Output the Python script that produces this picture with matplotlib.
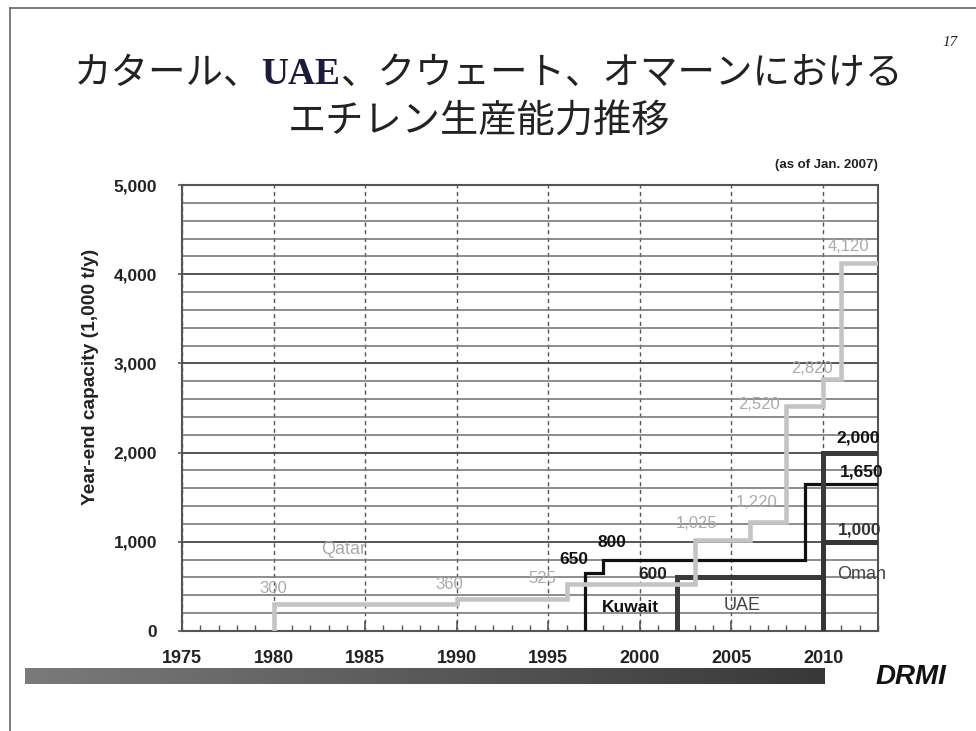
import numpy as np
import matplotlib
matplotlib.use("Agg")
import matplotlib.pyplot as plt
from matplotlib.lines import Line2D
from matplotlib.ticker import MultipleLocator, FixedLocator
from matplotlib.colors import LinearSegmentedColormap

JP = ["Noto Sans CJK JP", "DejaVu Sans"]
SANS = ["Liberation Sans", "DejaVu Sans"]
SERIF = ["Liberation Serif", "DejaVu Serif"]

# Year-end ethylene capacity (1,000 t/y); each point starts a new step
qatar_years = [1980, 1980, 1990, 1996, 2003, 2006, 2008, 2010, 2011, 2013]
qatar_cap = [0, 300, 360, 525, 1025, 1220, 2520, 2820, 4120, 4120]
kuwait_years = [1997, 1997, 1998, 2009, 2013]
kuwait_cap = [0, 650, 800, 1650, 1650]
uae_years = [2002, 2002, 2010, 2013]
uae_cap = [0, 600, 2000, 2000]
oman_years = [2010, 2010, 2013]
oman_cap = [0, 1000, 1000]

x_ticks = [1975, 1980, 1985, 1990, 1995, 2000, 2005, 2010]
y_ticks = [0, 1000, 2000, 3000, 4000, 5000]
y_tick_labels = ["0", "1,000", "2,000", "3,000", "4,000", "5,000"]

W, H = 976, 731
fig = plt.figure(figsize=(W / 100, H / 100), dpi=100)
fig.patch.set_facecolor("white")


def fx(px):
    return px / W


def fy(py):
    return 1 - py / H


# slide frame
fig.add_artist(Line2D([fx(10), fx(10)], [0, fy(8)], color="#666666", lw=1.2))
fig.add_artist(Line2D([fx(10), 1], [fy(8), fy(8)], color="#666666", lw=1.2))

# title (two lines, first line mixes a serif "UAE" into the Japanese text)
title_parts = [
    ("カタール、", dict(family=JP, color="#222222")),
    ("UAE", dict(family=SERIF, weight="bold", color="#1c1c3a")),
    ("、クウェート、オマーンにおける", dict(family=JP, color="#222222")),
]
t_objs = [fig.text(0, fy(84), s, ha="left", va="baseline", fontsize=27, **kw)
          for s, kw in title_parts]
t2 = fig.text(fx(479), fy(133), "エチレン生産能力推移", ha="center", va="baseline",
              fontsize=27.5, family=JP, color="#222222")
fig.canvas.draw()
rend = fig.canvas.get_renderer()
widths = [t.get_window_extent(rend).width for t in t_objs]
x0 = 488 - sum(widths) / 2
for t, w in zip(t_objs, widths):
    t.set_x(fx(x0))
    x0 += w

fig.text(fx(950), fy(42), "17", ha="center", va="center", fontsize=11,
         family=SERIF, style="italic", color="#222222")

# main chart
ax = fig.add_axes([fx(182), fy(631), fx(878) - fx(182), (631 - 185) / H])
ax.set_xlim(1975, 2013)
ax.set_ylim(0, 5000)

ax.yaxis.set_major_locator(FixedLocator(y_ticks))
ax.yaxis.set_minor_locator(MultipleLocator(200))
ax.xaxis.set_major_locator(FixedLocator(x_ticks))
ax.xaxis.set_minor_locator(MultipleLocator(1))

ax.grid(which="minor", axis="y", color="#7a7a7a", lw=1.2, zorder=0)
ax.grid(which="major", axis="y", color="#555555", lw=1.4, zorder=0)
ax.grid(which="major", axis="x", color="#555555", lw=1.0,
        linestyle=(0, (3, 2.5)), zorder=0)
ax.set_axisbelow(True)

ax.set_yticks(y_ticks)
ax.set_yticklabels(y_tick_labels)
ax.set_xticks(x_ticks)
ax.set_xticklabels([str(v) for v in x_ticks])

ax.tick_params(axis="x", which="major", direction="in", length=7, width=1.2,
               color="#555555", pad=14, labelsize=13, labelcolor="#222222")
ax.tick_params(axis="x", which="minor", direction="in", length=4, width=1.0,
               color="#555555")
ax.tick_params(axis="y", which="major", direction="out", length=3, width=1.2,
               color="#555555", pad=15, labelsize=12.5, labelcolor="#222222")
ax.tick_params(axis="y", which="minor", length=0)
for lab in ax.get_xticklabels() + ax.get_yticklabels():
    lab.set_fontweight("bold")
    lab.set_family(SANS)

for sp in ax.spines.values():
    sp.set_color("#555555")
    sp.set_linewidth(1.5)

ax.set_ylabel("Year-end capacity (1,000 t/y)", fontsize=13.8, fontweight="bold",
              family=SANS, color="#222222")
ax.yaxis.set_label_coords(-0.132, 0.57)
ax.yaxis.label.set_va("center")

# step lines
ax.plot(kuwait_years, kuwait_cap, drawstyle="steps-post", color="#111111",
        lw=2.3, solid_joinstyle="miter", zorder=3)
ax.plot(uae_years, uae_cap, drawstyle="steps-post", color="#3a3a3a",
        lw=3.6, solid_joinstyle="miter", zorder=4)
ax.plot(oman_years, oman_cap, drawstyle="steps-post", color="#363636",
        lw=3.6, solid_joinstyle="miter", zorder=4)
ax.plot(qatar_years, qatar_cap, drawstyle="steps-post", color="#c4c4c4",
        lw=3.3, solid_joinstyle="miter", zorder=5)

# value labels: (value, label x, vertical shift in data units)
qatar_lbl = [(300, 1980.0, 171), (360, 1989.6, 156), (525, 1994.7, 69),
             (1025, 2003.1, 175), (1220, 2006.4, 215), (2520, 2006.5, 14),
             (2820, 2009.4, 128), (4120, 2011.4, 196)]
for v, xl, dy in qatar_lbl:
    ax.text(xl, v + dy, f"{v:,}", ha="center", va="center", fontsize=12,
            family=SANS, color="#aaaaaa", zorder=6)
ax.text(1983.8, 919, "Qatar", ha="center", va="center", fontsize=13,
        family=SANS, color="#aaaaaa", zorder=6)

kuwait_lbl = [(650, 1996.4, 157), (800, 1998.5, 187)]
for v, xl, dy in kuwait_lbl:
    ax.text(xl, v + dy, f"{v:,}", ha="center", va="center", fontsize=12.5,
            family=SANS, weight="bold", color="#111111", zorder=6)
ax.text(1999.5, 258, "Kuwait", ha="center", va="center", fontsize=12.5,
        family=SANS, weight="bold", color="#111111", zorder=6)

ax.text(2000.7, 600 + 39, f"{600:,}", ha="center", va="center", fontsize=12.5,
        family=SANS, weight="bold", color="#222222", zorder=6)
ax.text(2005.6, 291, "UAE", ha="center", va="center", fontsize=13,
        family=SANS, color="#444444", zorder=6)

right_lbl = [(2000, 2011.9, 164, "#111111"), (1650, 2012.1, 133, "#111111"),
             (1000, 2012.0, 132, "#333333")]
for v, xl, dy, c in right_lbl:
    ax.text(xl, v + dy, f"{v:,}", ha="center", va="center", fontsize=12.5,
            family=SANS, weight="bold", color=c, zorder=6, clip_on=False)
ax.text(2012.1, 628, "Oman", ha="center", va="center", fontsize=13,
        family=SANS, color="#444444", zorder=6, clip_on=False)

ax.text(1.0, 1.045, "(as of Jan. 2007)", transform=ax.transAxes, ha="right",
        va="center", fontsize=9.5, family=SANS, weight="bold", color="#222222")

# bottom gradient band and logo text
bar_ax = fig.add_axes([fx(25), fy(684), fx(825) - fx(25), (684 - 668) / H])
grad = np.linspace(0, 1, 256)[None, :]
cmap = LinearSegmentedColormap.from_list("band", ["#7a7a7a", "#383838"])
bar_ax.imshow(grad, aspect="auto", cmap=cmap)
bar_ax.axis("off")

fig.text(fx(911), fy(677), "DRMI", ha="center", va="center", fontsize=20,
         family=SANS, weight="bold", style="italic", color="#111111")

fig.savefig("out.png", dpi=100)
